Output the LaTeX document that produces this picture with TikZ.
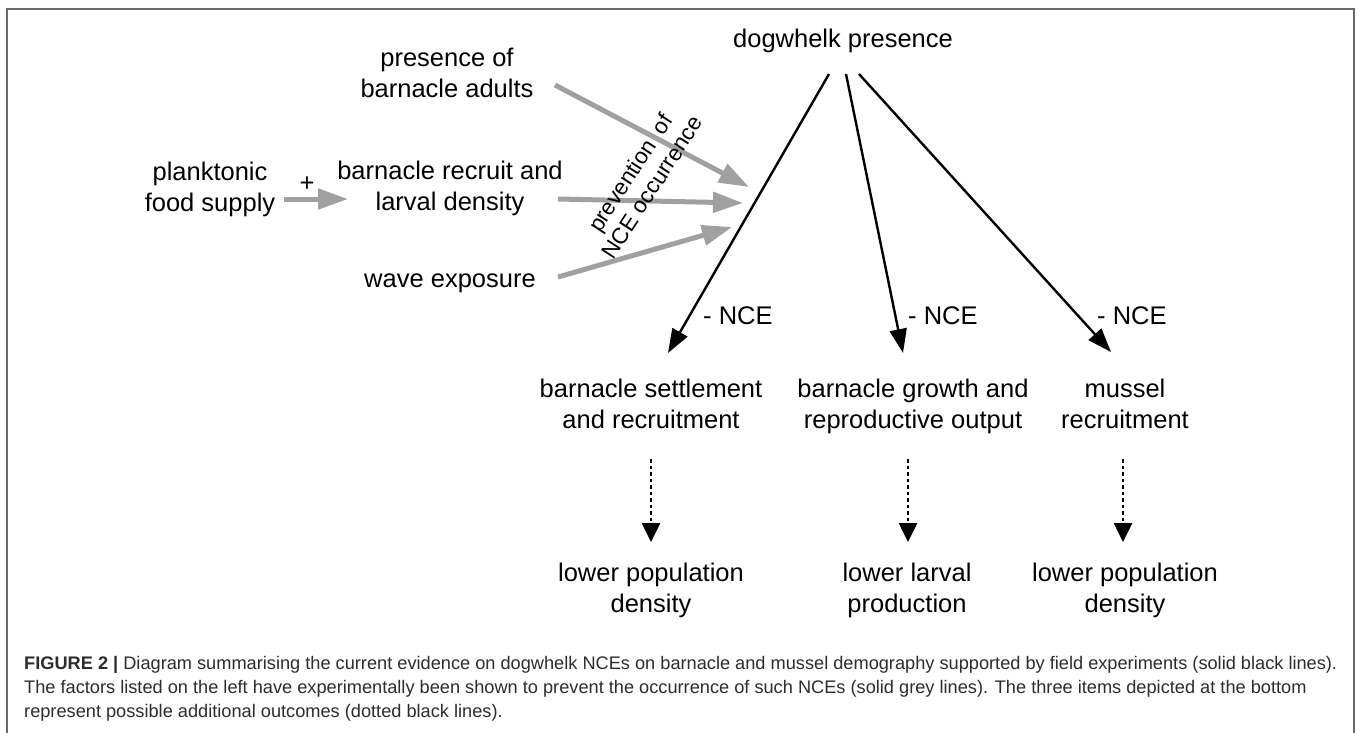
\documentclass[tikz,border=0pt]{standalone}
\usepackage{fontspec}
\setmainfont{Liberation Sans}
\usetikzlibrary{arrows.meta}
\definecolor{arrowgray}{RGB}{160,160,160}
\definecolor{framegray}{RGB}{105,105,105}
\definecolor{captext}{RGB}{45,45,45}
\begin{document}
\begin{tikzpicture}[x=1pt,y=-1pt,
  lbl/.style={font=\fontsize{25.5}{31}\selectfont, align=center, inner sep=0pt, anchor=base},
  nce/.style={font=\fontsize{25.5}{31}\selectfont, inner sep=0pt, anchor=base west},
  rot/.style={font=\fontsize{22.5}{26}\selectfont, align=center, inner sep=0pt, rotate=57},
  captionline/.style={font=\fontsize{18.2}{24}\selectfont, text=captext, inner sep=0pt, anchor=base west},
  grayarrow/.style={draw=arrowgray, line width=5pt, -{Triangle[length=30pt,width=20pt]}},
  blackarrow/.style={draw=black, line width=2.4pt, -{Triangle[length=24pt,width=17pt]}},
  dotarrow/.style={draw=black, line width=2.6pt, dash pattern=on 3.5pt off 3pt, -{Triangle[length=19pt,width=18pt]}},
  framestyle/.style={draw=framegray, line width=1.8pt}
]
\useasboundingbox (0,0) rectangle (1358,732);
\fill[white] (0,0) rectangle (1358,732);
% frame
\draw[framestyle] (7,740) -- (7,9) -- (1354,9) -- (1354,740);

% nodes (anchor base = baseline of last line)
\node[lbl] (dog) at (843,47) {dogwhelk presence};
\node[lbl] (adults) at (447,97) {presence of\\barnacle adults};
\node[lbl] (plank) at (210,211) {planktonic\\food supply};
\node[lbl] (recruit) at (450,210) {barnacle recruit and\\larval density};
\node[lbl] (wave) at (450,287) {wave exposure};
\node[lbl] (settle) at (651,428) {barnacle settlement\\and recruitment};
\node[lbl] (growth) at (913,428) {barnacle growth and\\reproductive output};
\node[lbl] (mussel) at (1125,428) {mussel\\recruitment};
\node[lbl] (low1) at (651,612) {lower population\\density};
\node[lbl] (low2) at (907,612) {lower larval\\production};
\node[lbl] (low3) at (1125,612) {lower population\\density};
\node[font=\fontsize{25.5}{31}\selectfont, inner sep=0pt] (plus) at (307,184) {+};
\node[nce] (n1) at (703,324) {- NCE};
\node[nce] (n2) at (908,324) {- NCE};
\node[nce] (n3) at (1097,324) {- NCE};

% connector end points
\coordinate (a1s) at (555,85);   \coordinate (a1e) at (749,187);
\coordinate (a2s) at (558,199);  \coordinate (a2e) at (743,203);
\coordinate (a3s) at (558,277);  \coordinate (a3e) at (732,227);
\coordinate (ps) at (284,199);   \coordinate (pe) at (348,199);
\coordinate (d1) at (829,74);    \coordinate (t1) at (668,353);
\coordinate (d2) at (846,74);    \coordinate (t2) at (903,353);
\coordinate (d3) at (859,74);    \coordinate (t3) at (1111,352);
\coordinate (s1) at (651,459);   \coordinate (e1) at (651,542);
\coordinate (s2) at (908,459);   \coordinate (e2) at (908,542);
\coordinate (s3) at (1123,459);  \coordinate (e3) at (1123,542);

% grey arrows
\draw[grayarrow] (ps) -- (pe);
\draw[grayarrow] (a1s) -- (a1e);
\draw[grayarrow] (a2s) -- (a2e);
\draw[grayarrow] (a3s) -- (a3e);
% black arrows
\draw[blackarrow] (d1) -- (t1);
\draw[blackarrow] (d2) -- (t2);
\draw[blackarrow] (d3) -- (t3);
% dotted arrows
\draw[dotarrow] (s1) -- (e1);
\draw[dotarrow] (s2) -- (e2);
\draw[dotarrow] (s3) -- (e3);

% rotated label
\node[rot] (prev) at (641,180) {prevention\enspace of\\NCE occurrence};

% caption
\node[captionline] (c1) at (24,669) {\textbf{FIGURE 2 |} Diagram summarising the current evidence on dogwhelk NCEs on barnacle and mussel demography supported by field experiments (solid black lines).};
\node[captionline] (c2) at (24,693) {The factors listed on the left have experimentally been shown to prevent the occurrence of such NCEs (solid grey lines). The three items depicted at the bottom};
\node[captionline] (c3) at (24,717) {represent possible additional outcomes (dotted black lines).};
\end{tikzpicture}
\end{document}
